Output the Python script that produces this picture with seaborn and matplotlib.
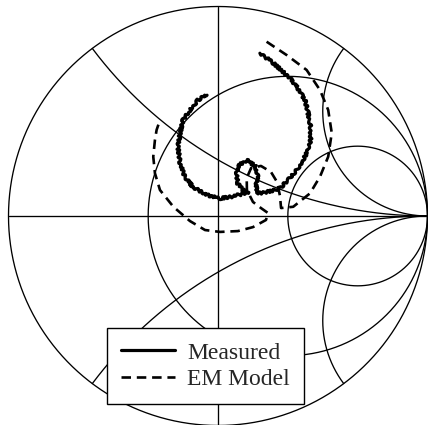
import numpy as np
import pandas as pd
import matplotlib
matplotlib.use("Agg")
import matplotlib.pyplot as plt
import seaborn as sns

# Reflection coefficient traces (real, imaginary parts of Gamma)
measured_re = [0.200, 0.258, 0.310, 0.344, 0.376, 0.415, 0.430, 0.442, 0.442, 0.430,
               0.406, 0.376, 0.334, 0.296, 0.239, 0.191,
               0.181, 0.192, 0.177, 0.138, 0.100, 0.088, 0.095, 0.119, 0.148,
               0.097, 0.057, 0.010, -0.053, -0.119, -0.158, -0.181, -0.191, -0.181,
               -0.167, -0.134, -0.095, -0.053]
measured_im = [0.777, 0.735, 0.689, 0.659, 0.617, 0.554, 0.492, 0.426, 0.363, 0.315,
               0.267, 0.220, 0.172, 0.132, 0.116, 0.108,
               0.143, 0.191, 0.239, 0.267, 0.243, 0.200, 0.153, 0.124, 0.115,
               0.100, 0.091, 0.084, 0.100, 0.138, 0.186, 0.253, 0.329, 0.396,
               0.458, 0.506, 0.554, 0.578]

model_re = [0.232, 0.328, 0.423, 0.487, 0.526, 0.543, 0.526, 0.487, 0.439, 0.359,
            0.301, 0.296, 0.282, 0.253, 0.205, 0.158, 0.137, 0.138, 0.167, 0.205,
            0.239, 0.229, 0.167, 0.095, 0.010, -0.062, -0.134, -0.213, -0.277,
            -0.301, -0.309, -0.301, -0.293, -0.277]
model_im = [0.832, 0.768, 0.697, 0.601, 0.506, 0.396, 0.283, 0.188, 0.108, 0.044,
            0.038, 0.095, 0.162, 0.210, 0.239, 0.229, 0.181, 0.124, 0.067, 0.038,
            0.014, -0.019, -0.053, -0.072, -0.076, -0.067, -0.024, 0.044, 0.124,
            0.204, 0.283, 0.363, 0.411, 0.458]

series_labels = ["Measured", "EM Model"]

# Smith chart grid values
resistance_circles = [0.5, 2.0]
reactance_arcs = [0.5, -0.5, 2.0, -2.0]

sns.set_theme(style="white")
plt.rcParams["font.family"] = ["Liberation Serif", "DejaVu Serif"]

fig = plt.figure(figsize=(4.28, 4.25), dpi=100)
ax = fig.add_axes([0, 0, 1, 1])
ax.set_xlim(-218 / 209.5, 210 / 209.5)
ax.set_ylim(-209 / 209.5, 216 / 209.5)
ax.axis("off")

grid_kw = dict(color="black", lw=0.95, zorder=1)

# outer boundary |Gamma| = 1
t = np.linspace(0, 2 * np.pi, 721)
ax.plot(np.cos(t), np.sin(t), **grid_kw)
# real axis and imaginary diameter
ax.plot([-1, 1], [0, 0], **grid_kw)
ax.plot([0, 0], [-1, 1], **grid_kw)

# constant-resistance circles
for r in resistance_circles:
    c, rad = r / (1 + r), 1 / (1 + r)
    ax.plot(c + rad * np.cos(t), rad * np.sin(t), **grid_kw)

# constant-reactance arcs
rr = np.tan(np.linspace(0, np.pi / 2 - 1e-4, 2000))
for x in reactance_arcs:
    z = rr + 1j * x
    g = (z - 1) / (z + 1)
    ax.plot(g.real, g.imag, **grid_kw)

df_meas = pd.DataFrame({"re": measured_re, "im": measured_im})
df_model = pd.DataFrame({"re": model_re, "im": model_im})

sns.lineplot(data=df_meas, x="re", y="im", sort=False, estimator=None,
             color="black", lw=2.3, ax=ax, label=series_labels[0], zorder=3)
meas_line = ax.lines[-1]
meas_line.set_sketch_params(scale=1.3, length=5, randomness=3)

sns.lineplot(data=df_model, x="re", y="im", sort=False, estimator=None,
             color="black", lw=1.9, ax=ax, label=series_labels[1], zorder=3)
model_line = ax.lines[-1]
model_line.set_dashes((3.6, 2.2))

ax.set_xlabel("")
ax.set_ylabel("")

h1 = plt.Line2D([], [], color="black", lw=2.3)
h2 = plt.Line2D([], [], color="black", lw=1.9, dashes=(3.6, 2.2))
leg = ax.legend([h1, h2], series_labels, loc="lower left",
                bbox_to_anchor=(107 / 428, 1 - 404 / 425), borderaxespad=0,
                fontsize=17, handlelength=2.3, handletextpad=0.5,
                borderpad=0.6, labelspacing=0.2, frameon=True, fancybox=False)
leg.get_frame().set_edgecolor("black")
leg.get_frame().set_linewidth(1.0)
leg.get_frame().set_facecolor("white")
leg.get_frame().set_alpha(1)
leg.set_zorder(5)

fig.savefig("out.png", dpi=100)
